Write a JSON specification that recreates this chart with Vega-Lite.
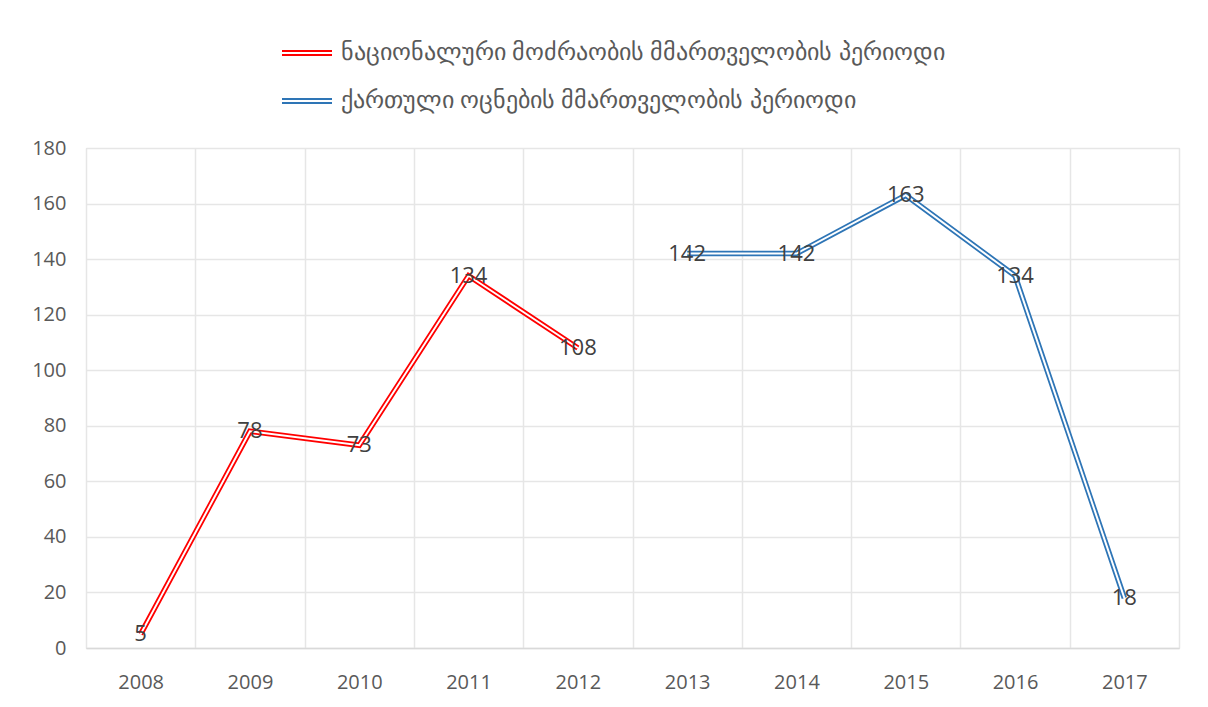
{
  "$schema": "https://vega.github.io/schema/vega-lite/v6.json",
  "width": 1093,
  "height": 500,
  "autosize": {"type": "none"},
  "padding": {"left": 86, "top": 148, "right": 29, "bottom": 59},
  "background": "white",
  "config": {
    "view": {"stroke": "#d9d9d9", "strokeWidth": 1},
    "font": "Open Sans"
  },
  "data": {
    "values": [
      {"year": "2008", "value": 5, "series": "ნაციონალური მოძრაობის მმართველობის პერიოდი"},
      {"year": "2009", "value": 78, "series": "ნაციონალური მოძრაობის მმართველობის პერიოდი"},
      {"year": "2010", "value": 73, "series": "ნაციონალური მოძრაობის მმართველობის პერიოდი"},
      {"year": "2011", "value": 134, "series": "ნაციონალური მოძრაობის მმართველობის პერიოდი"},
      {"year": "2012", "value": 108, "series": "ნაციონალური მოძრაობის მმართველობის პერიოდი"},
      {"year": "2013", "value": 142, "series": "ქართული ოცნების მმართველობის პერიოდი"},
      {"year": "2014", "value": 142, "series": "ქართული ოცნების მმართველობის პერიოდი"},
      {"year": "2015", "value": 163, "series": "ქართული ოცნების მმართველობის პერიოდი"},
      {"year": "2016", "value": 134, "series": "ქართული ოცნების მმართველობის პერიოდი"},
      {"year": "2017", "value": 18, "series": "ქართული ოცნების მმართველობის პერიოდი"}
    ]
  },
  "encoding": {
    "x": {
      "field": "year",
      "type": "ordinal",
      "bandPosition": 0.5,
      "scale": {"type": "band", "paddingInner": 0, "paddingOuter": 0},
      "axis": {
        "title": null,
        "labelAngle": 0,
        "tickBand": "extent",
        "grid": true,
        "gridColor": "#e6e6e6",
        "gridWidth": 1.5,
        "domain": true,
        "domainColor": "#d9d9d9",
        "domainWidth": 1.5,
        "ticks": false,
        "labelFontSize": 20,
        "labelColor": "#595959",
        "labelPadding": 24,
        "labelFont": "Open Sans"
      }
    },
    "y": {
      "field": "value",
      "type": "quantitative",
      "scale": {"domain": [0, 180], "nice": false},
      "axis": {
        "title": null,
        "values": [0, 20, 40, 60, 80, 100, 120, 140, 160, 180],
        "grid": true,
        "gridColor": "#e6e6e6",
        "gridWidth": 1.5,
        "domain": false,
        "ticks": false,
        "labelFontSize": 20,
        "labelColor": "#595959",
        "labelPadding": 20,
        "labelFont": "Open Sans"
      }
    }
  },
  "layer": [
    {
      "mark": {"type": "line", "strokeWidth": 5.5, "strokeJoin": "miter"},
      "encoding": {
        "color": {
          "field": "series",
          "type": "nominal",
          "sort": ["ნაციონალური მოძრაობის მმართველობის პერიოდი", "ქართული ოცნების მმართველობის პერიოდი"],
          "scale": {
            "domain": ["ნაციონალური მოძრაობის მმართველობის პერიოდი", "ქართული ოცნების მმართველობის პერიოდი"],
            "range": ["#ff0000", "#2e75b6"]
          },
          "legend": {
            "title": null,
            "orient": "none",
            "legendX": 195,
            "legendY": -121,
            "direction": "vertical",
            "symbolType": "M-1,-0.08H1M-1,0.08H1",
            "symbolSize": 2500,
            "symbolStrokeWidth": 2,
            "labelFontSize": 24,
            "labelColor": "#595959",
            "labelFont": "Noto Sans",
            "rowPadding": 10,
            "labelOffset": 8,
            "labelLimit": 900
          }
        }
      }
    },
    {
      "mark": {"type": "line", "strokeWidth": 2, "color": "white", "strokeJoin": "miter"},
      "encoding": {"detail": {"field": "series", "type": "nominal"}}
    },
    {
      "mark": {"type": "text", "fontSize": 22, "color": "#404040", "font": "Open Sans", "baseline": "middle", "align": "center"},
      "encoding": {"text": {"field": "value", "type": "quantitative"}}
    }
  ]
}
